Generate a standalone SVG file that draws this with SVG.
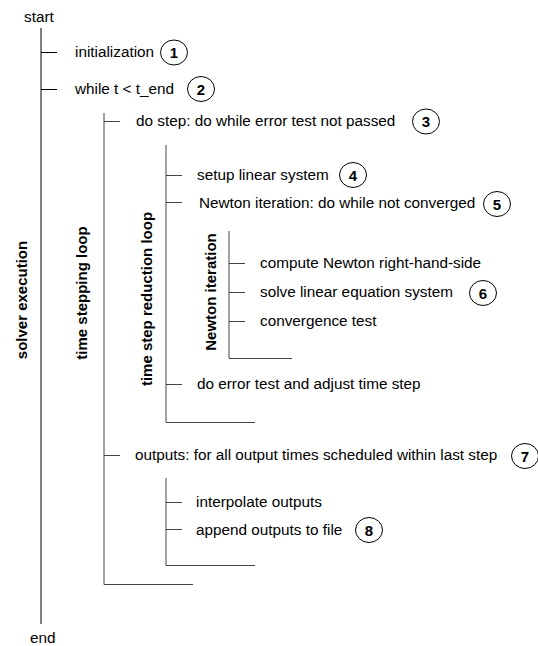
<svg xmlns="http://www.w3.org/2000/svg" width="538" height="646" viewBox="0 0 538 646">
  <style>
    .t { font-family: "Liberation Sans", Arial, sans-serif; font-size: 15.3px; fill: #000; }
    .lbl { font-family: "Liberation Sans", Arial, sans-serif; font-size: 15px; font-weight: bold; fill: #000; text-anchor: middle; }
    .num { font-family: "Liberation Sans", Arial, sans-serif; font-size: 15px; font-weight: bold; fill: #000; text-anchor: middle; }
    .badge { fill: #fff; stroke: #000; stroke-width: 1; }
    .main { stroke: #000; stroke-width: 1; fill: none; }
    .sub { stroke: #444; stroke-width: 1; fill: none; }
  </style>
  <rect width="538" height="646" fill="#fff"/>

  <!-- connectors: loop brackets and step ticks -->
  <g id="connectors">
    <!-- solver execution -->
    <line class="main" x1="41" y1="28" x2="41" y2="624"/>
    <line class="main" x1="41" y1="52.5" x2="57" y2="52.5"/>
    <line class="main" x1="41" y1="89.5" x2="57" y2="89.5"/>
    <!-- time stepping loop -->
    <polyline class="sub" points="104,113 104,584.5 193,584.5"/>
    <line class="sub" x1="104" y1="121.5" x2="120" y2="121.5"/>
    <line class="sub" x1="104" y1="455.5" x2="120" y2="455.5"/>
    <!-- time step reduction loop -->
    <polyline class="sub" points="166,145 166,422.5 255,422.5"/>
    <line class="sub" x1="166" y1="175.5" x2="182" y2="175.5"/>
    <line class="sub" x1="166" y1="202.5" x2="182" y2="202.5"/>
    <line class="sub" x1="166" y1="384.5" x2="182" y2="384.5"/>
    <!-- Newton iteration -->
    <polyline class="sub" points="229,231 229,358.5 292,358.5"/>
    <line class="sub" x1="229" y1="263.5" x2="245" y2="263.5"/>
    <line class="sub" x1="229" y1="292.5" x2="245" y2="292.5"/>
    <line class="sub" x1="229" y1="321.5" x2="245" y2="321.5"/>
    <!-- outputs loop -->
    <polyline class="sub" points="166,478 166,565.5 255,565.5"/>
    <line class="sub" x1="166" y1="502.5" x2="182" y2="502.5"/>
    <line class="sub" x1="166" y1="529.5" x2="182" y2="529.5"/>
  </g>

  <!-- terminals -->
  <g id="start"><text class="t" x="24" y="22">start</text></g>
  <g id="end"><text class="t" x="30" y="643">end</text></g>

  <!-- loop titles -->
  <g id="solver-execution"><text class="lbl" transform="translate(27,300) rotate(-90)">solver execution</text></g>
  <g id="time-stepping-loop"><text class="lbl" transform="translate(87,293) rotate(-90)">time stepping loop</text></g>
  <g id="time-step-reduction-loop"><text class="lbl" transform="translate(151.5,299) rotate(-90)">time step reduction loop</text></g>
  <g id="newton-iteration-title"><text class="lbl" transform="translate(216,292) rotate(-90)">Newton iteration</text></g>

  <!-- steps -->
  <g id="initialization">
    <text class="t" x="75" y="57">initialization</text>
    <ellipse class="badge" cx="174" cy="52.5" rx="13.5" ry="12.5"/>
    <text class="num" x="174" y="58">1</text>
  </g>
  <g id="while-loop">
    <text class="t" x="75" y="94">while t &lt; t_end</text>
    <ellipse class="badge" cx="201" cy="89" rx="13.5" ry="12.5"/>
    <text class="num" x="201" y="94.5">2</text>
  </g>
  <g id="do-step">
    <text class="t" x="136" y="126">do step: do while error test not passed</text>
    <ellipse class="badge" cx="426" cy="121.5" rx="13.5" ry="12.5"/>
    <text class="num" x="426" y="127">3</text>
  </g>
  <g id="setup-linear-system">
    <text class="t" x="197" y="180">setup linear system</text>
    <ellipse class="badge" cx="353" cy="175" rx="13.5" ry="12.5"/>
    <text class="num" x="353" y="180.5">4</text>
  </g>
  <g id="newton-iteration">
    <text class="t" x="199" y="208">Newton iteration: do while not converged</text>
    <ellipse class="badge" cx="497" cy="204" rx="13.5" ry="12.5"/>
    <text class="num" x="497" y="209.5">5</text>
  </g>
  <g id="compute-rhs">
    <text class="t" x="260" y="268">compute Newton right-hand-side</text>
  </g>
  <g id="solve-linear-system">
    <text class="t" x="260" y="297">solve linear equation system</text>
    <ellipse class="badge" cx="483" cy="293" rx="13.5" ry="12.5"/>
    <text class="num" x="483" y="298.5">6</text>
  </g>
  <g id="convergence-test">
    <text class="t" x="260" y="326">convergence test</text>
  </g>
  <g id="error-test">
    <text class="t" x="197" y="389">do error test and adjust time step</text>
  </g>
  <g id="outputs">
    <text class="t" x="135" y="460">outputs: for all output times scheduled within last step</text>
    <ellipse class="badge" cx="525" cy="456" rx="13.5" ry="12.5"/>
    <text class="num" x="525" y="461.5">7</text>
  </g>
  <g id="interpolate-outputs">
    <text class="t" x="196" y="507">interpolate outputs</text>
  </g>
  <g id="append-outputs">
    <text class="t" x="196" y="535">append outputs to file</text>
    <ellipse class="badge" cx="369" cy="530" rx="13.5" ry="12.5"/>
    <text class="num" x="369" y="535.5">8</text>
  </g>
</svg>
